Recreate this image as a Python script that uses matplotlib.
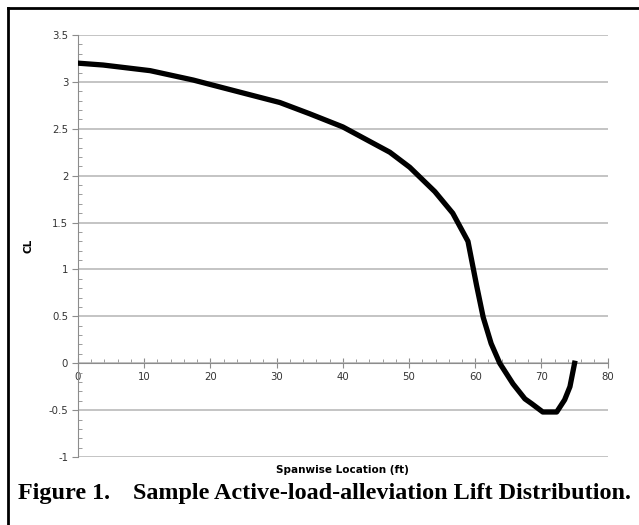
import matplotlib.pyplot as plt
from matplotlib.lines import Line2D
from matplotlib.ticker import MultipleLocator

# spanwise station (ft) and section lift coefficient
span_ft = [0, 3.8, 10.9, 17.4, 23.4, 30.5, 35, 40, 47.1, 50.1, 53.9, 56.6, 58.9,
           60.2, 61.2, 62.4, 63.7, 65.7, 67.5, 68.5, 70.2, 72.3, 73.5, 74.3, 75.0]
cl = [3.20, 3.18, 3.12, 3.02, 2.91, 2.78, 2.66, 2.52, 2.25, 2.09, 1.83, 1.60, 1.30,
      0.83, 0.49, 0.21, 0.0, -0.22, -0.38, -0.43, -0.52, -0.52, -0.39, -0.25, 0.0]

y_ticks = [-1, -0.5, 0, 0.5, 1, 1.5, 2, 2.5, 3, 3.5]
x_ticks = [0, 10, 20, 30, 40, 50, 60, 70, 80]

fig = plt.figure(figsize=(6.39, 5.25), dpi=100)
ax = fig.add_axes([0.122, 0.1295, 0.829, 0.8038])

ax.plot(span_ft, cl, color="black", lw=3.8, solid_joinstyle="round", zorder=3)

ax.set_xlim(0, 80)
ax.set_ylim(-1, 3.5)
ax.set_yticks(y_ticks)
ax.set_yticklabels([f"{v:g}" for v in y_ticks])
ax.set_xticks(x_ticks)
ax.xaxis.set_minor_locator(MultipleLocator(2))
ax.yaxis.set_minor_locator(MultipleLocator(0.1))

ax.grid(axis="y", color="#b4b4b4", lw=1.1)
ax.set_axisbelow(True)

for s in ["top", "right"]:
    ax.spines[s].set_visible(False)
ax.spines["left"].set_color("#8c8c8c")
ax.spines["bottom"].set_color("#8c8c8c")
ax.spines["bottom"].set_position(("data", 0))

ax.tick_params(axis="x", which="major", direction="inout", length=7, color="#8c8c8c",
               labelsize=7.3, labelcolor="#333333", pad=3)
ax.tick_params(axis="x", which="minor", direction="in", length=3, color="#8c8c8c")
ax.tick_params(axis="y", which="major", direction="out", length=4, color="#8c8c8c",
               labelsize=7.3, labelcolor="#333333", pad=3)
ax.tick_params(axis="y", which="minor", direction="in", length=3, color="#8c8c8c")

ax.set_xlabel("Spanwise Location (ft)", fontsize=7.5, fontweight="bold")
ax.xaxis.set_label_coords(0.5, -0.018)
ax.set_ylabel("CL", fontsize=7.5, fontweight="bold")
ax.yaxis.set_label_coords(-0.083, 0.5)

# frame around the chart
fig.add_artist(Line2D([8 / 639, 8 / 639], [0, 1 - 8 / 525], color="black", lw=2))
fig.add_artist(Line2D([8 / 639, 1], [1 - 8 / 525, 1 - 8 / 525], color="black", lw=2))

fig.text(18 / 639, 1 - 493 / 525, "Figure 1.", fontsize=17.4, fontweight="bold",
         family="Liberation Serif", va="center", ha="left")
fig.text(133 / 639, 1 - 493 / 525, "Sample Active-load-alleviation Lift Distribution.",
         fontsize=17.4, fontweight="bold", family="Liberation Serif", va="center", ha="left")

fig.savefig("out.png", dpi=100)
